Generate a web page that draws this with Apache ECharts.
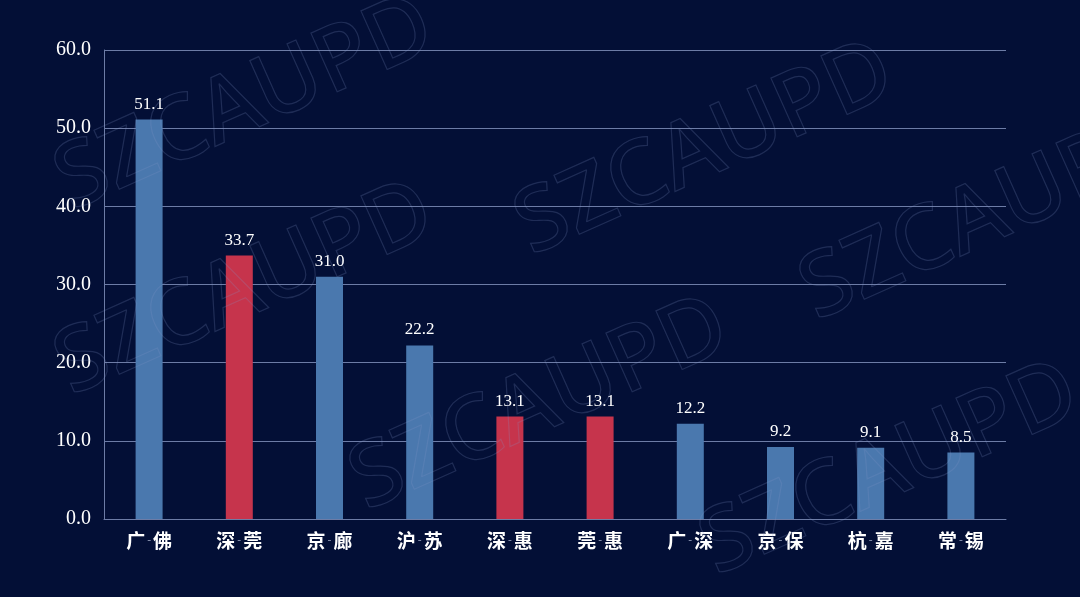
<!DOCTYPE html>
<html>
<head>
<meta charset="utf-8">
<script src="https://cdn.jsdelivr.net/npm/echarts@6/dist/echarts.min.js"></script>
<style>
html,body{margin:0;padding:0;background:#030f36;}
#chart{width:1080px;height:597px;}
</style>
</head>
<body>
<div id="chart"></div>
<script>
const categories = ['广-佛','深-莞','京-廊','沪-苏','深-惠','莞-惠','广-深','京-保','杭-嘉','常-锡'];
const values = [51.1, 33.7, 31.0, 22.2, 13.1, 13.1, 12.2, 9.2, 9.1, 8.5];
const highlighted = [false, true, false, false, true, true, false, false, false, false];
const yTicks = [0, 10, 20, 30, 40, 50, 60];

const BLUE = '#4a78ae';
const RED = '#c6344c';
const GRID = '#6d7ca6';

const chart = echarts.init(document.getElementById('chart'));

const watermarks = [[245,105],[705,150],[245,290],[540,405],[990,215],[890,470]];

chart.setOption({
  backgroundColor: '#030f36',
  animation: false,
  grid: {left: 104, right: 74, top: 50, bottom: 78},
  graphic: watermarks.map(p => ({
    type: 'text', x: p[0], y: p[1], rotation: 0.42, z: 100, silent: true,
    style: {
      text: 'SZCAUPD', font: '500 90px "Noto Sans", sans-serif',
      fill: 'rgba(0,0,0,0)', stroke: 'rgba(130,150,200,0.22)', lineWidth: 1.2,
      align: 'center', verticalAlign: 'middle'
    }
  })),
  xAxis: {
    type: 'category',
    data: categories,
    axisLine: {show: true, lineStyle: {color: GRID, width: 1}},
    axisTick: {show: false},
    axisLabel: {
      interval: 0,
      margin: 12,
      formatter: v => {
        const parts = v.split('-');
        return '{a|' + parts[0] + '}{d|-}{a|' + parts[1] + '}';
      },
      rich: {
        a: {color: '#ffffff', fontSize: 19, fontWeight: 'bold', fontFamily: '"Noto Sans CJK SC", sans-serif'},
        d: {color: '#7f89a6', fontSize: 12, fontFamily: '"Noto Sans", sans-serif', padding: [0, 2, 0, 2]}
      }
    }
  },
  yAxis: {
    type: 'value',
    min: 0, max: 60, interval: 10,
    axisLine: {show: true, lineStyle: {color: GRID, width: 1}},
    axisTick: {show: false},
    splitLine: {show: true, lineStyle: {color: GRID, width: 1}},
    axisLabel: {
      color: '#ffffff', fontSize: 20, margin: 13,
      fontFamily: '"Liberation Serif", "DejaVu Serif", serif',
      formatter: v => yTicks.includes(v) ? v.toFixed(1) : ''
    }
  },
  series: [{
    type: 'bar',
    barWidth: 27,
    data: values.map((v, i) => ({value: v, itemStyle: {color: highlighted[i] ? RED : BLUE}})),
    label: {
      show: true, position: 'top', distance: 7,
      color: '#ffffff', fontSize: 17,
      fontFamily: '"Liberation Serif", "DejaVu Serif", serif',
      formatter: p => p.value.toFixed(1)
    }
  }]
});
</script>
</body>
</html>
